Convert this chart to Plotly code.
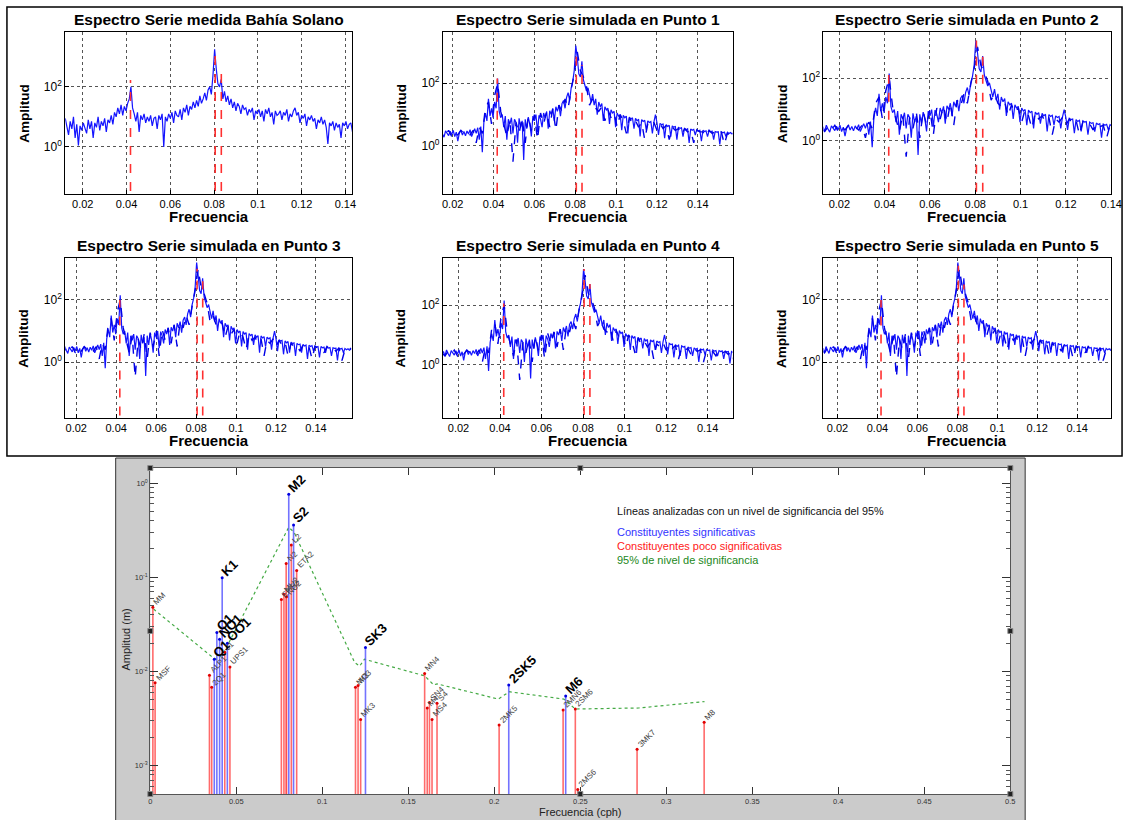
import math
import plotly.graph_objects as go

W, H = 1137, 820

# ---------------- data: spectra (log10 amplitude) ----------------
# fine grid for the solid spectra, coarse grid for the dashed spectra
spec_freq_fino = [round(0.012 + 0.00075 * i, 5) for i in range(195)]
spec_freq = [round(0.012 + 0.0015 * i, 4) for i in range(98)]

medida_log = [
    0.95, 0.70, 0.40, 0.85, 0.60, 1.00, 0.30, 0.75, 0.05, 0.70,
    0.55, 0.80, 0.65, 0.45, 0.90, 0.60, 0.85, 0.30, 0.80, 0.65,
    1.00, 0.55, 0.85, 0.70, 0.95, 0.50, 0.90, 0.80, 1.05, 0.75,
    1.15, 1.00, 1.30, 1.10, 1.40, 1.05, 1.35, 1.20, 1.45, 1.60,
    2.00, 1.30, 1.10, 0.85, 1.15, 0.50, 1.05, 0.90, 1.10, 0.80,
    1.00, 0.85, 1.05, 0.70, 0.95, 1.00, 0.60, 1.05, 0.90, 1.10,
    0.00, 1.00, 0.85, 1.10, 0.95, 1.15, 0.80, 1.20, 1.05, 1.00,
    1.25, 0.90, 1.30, 1.15, 1.40, 1.05, 1.35, 1.25, 1.50, 1.30,
    1.55, 1.35, 1.70, 1.45, 1.60, 1.80, 1.55, 1.90, 2.00, 1.75,
    2.40, 3.25, 2.60, 2.10, 2.00, 2.25, 1.60, 1.85, 1.50, 1.70,
    1.40, 1.60, 1.30, 1.50, 1.20, 1.45, 1.35, 1.10, 1.40, 1.25,
    1.30, 1.05, 1.25, 1.15, 1.30, 0.90, 1.20, 1.10, 1.25, 1.00,
    1.20, 0.85, 1.25, 1.10, 1.30, 1.00, 1.15, 0.75, 1.20, 1.05,
    1.10, 1.20, 0.90, 1.15, 1.05, 1.25, 0.85, 1.10, 1.00, 1.20,
    1.30, 1.05, 1.15, 0.80, 1.05, 0.95, 1.10, 0.70, 1.00, 0.90,
    1.05, 0.85, 0.95, 0.60, 0.90, 0.80, 1.00, 0.75, 0.90, 0.65,
    0.10, 0.80, 0.70, 0.85, 0.55, 0.80, 0.65, 0.75, 0.30, 0.80,
    0.70, 0.85, 0.60, 0.75, 0.80, 0.50, 0.75, 0.65, 0.80, 0.70,
    0.60, 0.75, 0.70, 0.50, 0.75, 0.65, 0.70, 0.60, 0.75, 0.65,
    0.70, 0.60, 0.75, 0.65, 0.70,
]

simulada_log = [
    0.35, 0.45, 0.30, 0.50, 0.38, 0.28, 0.48, 0.40, 0.33, 0.47,
    0.36, 0.50, 0.30, 0.44, 0.15, 0.42, 0.50, 0.35, 0.46, 0.32,
    0.48, 0.38, 0.52, 0.30, 0.45, 0.55, 0.40, 0.58, 0.20, 0.62,
    -0.20, 0.75, 1.05, 0.80, 1.50, 0.95, 1.20, 0.90, 1.40, 1.20,
    2.15, 1.10, 0.90, 1.00, 0.60, 0.95, 0.20, 0.85, 0.70, 0.90,
    0.40, 0.85, 0.75, 0.10, 0.88, 0.60, 0.80, -0.45, 0.85, 0.55,
    0.92, 0.70, 0.30, 0.95, 0.80, 1.00, 0.45, 0.98, 0.85, 0.60,
    1.05, 0.90, 1.10, 0.55, 1.12, 1.00, 1.20, 0.80, 1.25, 1.10,
    1.30, 0.95, 1.35, 1.45, 1.20, 1.55, 1.70, 1.45, 1.85, 2.05,
    2.40, 3.20, 2.80, 2.30, 2.20, 2.70, 2.10, 1.90, 1.75, 1.85,
    1.60, 1.40, 1.65, 1.30, 1.50, 1.00, 1.40, 1.25, 1.35, 0.80,
    1.25, 1.15, 1.20, 0.70, 1.15, 1.05, 1.10, 0.60, 1.05, 0.95,
    1.00, 0.50, 0.98, 0.90, 0.95, 0.40, 0.92, 0.85, 0.90, 0.55,
    0.88, 0.80, 0.85, 0.30, 0.84, 0.78, 0.82, 0.50, 0.80, 0.75,
    0.78, 0.40, 0.76, 1.00, 0.74, 0.35, 0.72, 0.68, 0.70, 0.25,
    0.68, 0.62, 0.66, 0.30, 0.64, 0.60, 0.62, 0.20, 0.60, 0.56,
    0.58, 0.30, 0.57, 0.52, 0.55, 0.10, 0.54, 0.50, 0.53, 0.35,
    0.52, 0.48, 0.50, 0.15, 0.50, 0.46, 0.48, 0.30, 0.48, 0.45,
    0.47, 0.20, 0.46, 0.44, 0.45, 0.05, 0.45, 0.42, 0.44, 0.30,
    0.44, 0.40, 0.43, 0.38, 0.42,
]

simulada_b_log = [
    0.40, 0.30, 0.45, 0.35, 0.50, 0.30, 0.45, 0.35, 0.50, 0.40,
    0.45, 0.35, 0.50, 0.10, 0.60, 0.40, 1.20, 1.40, 0.70, 1.60,
    2.00,
    1.10, 0.70, 0.30, 0.85, -0.50, 0.75, 0.40, 0.90, 0.10,
    0.95, 0.50, 1.00, 0.20, 1.05, 0.70, 1.10, 0.60, 1.20, 0.50,
    1.30, 1.10, 1.50, 1.20, 1.80, 2.30,
    3.00, 2.40, 2.20,
    1.90, 1.30, 1.50, 1.20, 1.10, 1.25, 0.80, 1.15, 0.90, 1.05, 0.60,
    1.00, 0.80, 0.40, 0.90, 0.70, 0.80, 0.60, 0.75, 0.20, 0.70,
    0.60, 0.75, 0.50, 0.70, 0.55, 0.65, 0.20, 0.60, 0.50, 0.55,
    0.35, 0.55, 0.45, 0.50, 0.10, 0.50, 0.45, 0.45, 0.30, 0.50,
    0.40, 0.45, 0.35, 0.45, 0.05, 0.40, 0.35, 0.45,
]

# red dashed lines (K1, M2, S2): frequency and log10 height per panel
picos_freq = [0.0418, 0.0805, 0.0833]
picos_medida = [2.23, 3.27, 2.63]
picos_p1 = [2.15, 3.10, 2.58]
picos_p2 = [2.10, 3.20, 2.73]
picos_p3 = [2.00, 3.00, 2.60]
picos_p4 = [2.05, 3.20, 2.70]
picos_p5 = [2.00, 3.10, 2.50]

spec_titles = [
    "Espectro Serie medida Bahía Solano",
    "Espectro Serie simulada en Punto 1",
    "Espectro Serie simulada en Punto 2",
    "Espectro Serie simulada en Punto 3",
    "Espectro Serie simulada en Punto 4",
    "Espectro Serie simulada en Punto 5",
]
spec_xticks = [0.02, 0.04, 0.06, 0.08, 0.1, 0.12, 0.14]
spec_xticklabels = ["0.02", "0.04", "0.06", "0.08", "0.1", "0.12", "0.14"]

# ---------------- data: t_tide constituents ----------------
const_names = ["MM", "MSF", "ALP1", "2Q1", "Q1", "O1", "NO1", "K1", "J1", "OO1", "UPS1",
               "EPS2", "MU2", "N2", "NU2", "M2", "L2", "S2", "ETA2",
               "MO3", "M3", "MK3", "SK3",
               "MN4", "M4", "SN4", "MS4", "S4",
               "2MK5", "2SK5", "2MN6", "M6", "2SM6", "2MS6", "3MK7", "M8"]
const_freq = [0.0015, 0.0028, 0.0344, 0.0357, 0.0372, 0.0387, 0.0403, 0.0418, 0.0433, 0.0448, 0.0463,
              0.0762, 0.0777, 0.0790, 0.0792, 0.0805, 0.0820, 0.0833, 0.0851,
              0.1193, 0.1208, 0.1223, 0.1251,
              0.1595, 0.1610, 0.1623, 0.1638, 0.1667,
              0.2028, 0.2084, 0.2400, 0.2415, 0.2471, 0.2485, 0.2830, 0.3220]
const_amp = [0.048, 0.0076, 0.0091, 0.0068, 0.0135, 0.026, 0.022, 0.099, 0.016, 0.020, 0.0112,
             0.058, 0.066, 0.14, 0.062, 0.76, 0.22, 0.36, 0.118,
             0.0068, 0.0071, 0.0031, 0.018,
             0.0095, 0.0041, 0.0047, 0.0031, 0.0046,
             0.0027, 0.0072, 0.0039, 0.0055, 0.0040, 0.00056, 0.0015, 0.0029]
const_signif = ["Q1", "O1", "NO1", "K1", "OO1", "M2", "S2", "SK3", "2SK5", "M6"]

signif_freq = [0.0019, 0.0355, 0.0385, 0.0420, 0.0805, 0.0836, 0.1188, 0.1217, 0.1245,
               0.1595, 0.1648, 0.1667, 0.2023, 0.2087, 0.2404, 0.2471, 0.2839, 0.3222]
signif_amp = [0.046, 0.0145, 0.0135, 0.0150, 0.34, 0.30, 0.0125, 0.0114, 0.0135,
              0.0090, 0.0072, 0.0074, 0.0051, 0.0061, 0.0051, 0.0040, 0.0041, 0.0048]

bottom_xticks = [0, 0.05, 0.1, 0.15, 0.2, 0.25, 0.3, 0.35, 0.4, 0.45, 0.5]
bottom_xticklabels = ["0", "0.05", "0.1", "0.15", "0.2", "0.25", "0.3", "0.35", "0.4", "0.45", "0.5"]

# ---------------- layout geometry (pixels) ----------------
panel_geom = [
    (64, 354, 32, 194, (0.012, 0.143), (-1.57, 3.83)),
    (446, 739, 32, 194, (0.0152, 0.157), (-1.53, 3.63)),
    (831, 1122, 32, 194, (0.013, 0.140), (-1.69, 3.47)),
    (64, 354, 258, 418, (0.0145, 0.158), (-1.80, 3.35)),
    (446, 739, 258, 418, (0.0125, 0.152), (-1.77, 3.57)),
    (831, 1122, 258, 418, (0.013, 0.157), (-1.80, 3.35)),
]
panel_solid = [medida_log, simulada_log, simulada_log, simulada_log, simulada_log, simulada_log]
panel_dashed = [None, simulada_b_log, simulada_b_log, simulada_b_log, simulada_b_log, simulada_b_log]
panel_picos = [picos_medida, picos_p1, picos_p2, picos_p3, picos_p4, picos_p5]


def fx(px):
    return px / W


def fy(py):
    return 1 - py / H


FONT = "Arial, Liberation Sans, sans-serif"
fig = go.Figure()
layout = dict(width=W, height=H, margin=dict(l=0, r=0, t=0, b=0), autosize=False,
              paper_bgcolor="white", plot_bgcolor="white", showlegend=False)
annotations = []
shapes = []

for k, (x0, x1, y0, y1, xr, yr) in enumerate(panel_geom):
    sfx = "" if k == 0 else str(k + 1)
    xa, ya = "x" + sfx, "y" + sfx
    fig.add_trace(go.Scatter(x=spec_freq_fino, y=[10 ** v for v in panel_solid[k]], mode="lines",
                             line=dict(color="#1414ff", width=1.2), xaxis=xa, yaxis=ya, hoverinfo="skip"))
    if panel_dashed[k] is not None:
        fig.add_trace(go.Scatter(x=spec_freq, y=[10 ** v for v in panel_dashed[k]], mode="lines",
                                 line=dict(color="#0000e6", width=1.4, dash="dash"),
                                 xaxis=xa, yaxis=ya, hoverinfo="skip"))
    rx, ry = [], []
    for f, h in zip(picos_freq, panel_picos[k]):
        rx += [f, f, None]
        ry += [10 ** (yr[0] - 0.5), 10 ** h, None]
    fig.add_trace(go.Scatter(x=rx, y=ry, mode="lines", line=dict(color="#ff3030", width=1.6, dash="dash"),
                             xaxis=xa, yaxis=ya, hoverinfo="skip"))
    common = dict(showline=True, linecolor="black", linewidth=1, mirror=True, ticks="inside",
                  ticklen=4, tickcolor="black", showgrid=True, gridcolor="#555555", griddash="dot",
                  gridwidth=1, zeroline=False)
    layout["xaxis" + sfx] = dict(domain=[fx(x0), fx(x1)], range=list(xr), anchor=ya,
                                 tickmode="array", tickvals=spec_xticks, ticktext=spec_xticklabels,
                                 tickfont=dict(family=FONT, size=11, color="black"), **common)
    layout["yaxis" + sfx] = dict(domain=[fy(y1), fy(y0)], range=list(yr), anchor=xa, type="log",
                                 tickmode="array", tickvals=[1, 100],
                                 ticktext=["10<sup>0</sup>", "10<sup>2</sup>"],
                                 tickfont=dict(family=FONT, size=12, color="black"), **common)
    cx = fx((x0 + x1) / 2)
    annotations.append(dict(xref="paper", yref="paper", x=cx, y=fy(y0 - 13), text="<b>%s</b>" % spec_titles[k],
                            showarrow=False, xanchor="center", yanchor="middle",
                            font=dict(family=FONT, size=15.5, color="black")))
    annotations.append(dict(xref="paper", yref="paper", x=cx, y=fy(y1 + 22), text="<b>Frecuencia</b>",
                            showarrow=False, xanchor="center", yanchor="middle",
                            font=dict(family=FONT, size=15, color="black")))
    annotations.append(dict(xref="paper", yref="paper", x=fx(x0 - 42), y=fy((y0 + y1) / 2),
                            text="<b>Amplitud</b>", textangle=-90, showarrow=False,
                            xanchor="center", yanchor="middle",
                            font=dict(family=FONT, size=13.5, color="black")))

# ---------------- bottom t_tide panel ----------------
BX0, BX1, BY0, BY1 = 150, 1020, 468, 794
BYR = (-3.3, 0.16)
shapes.append(dict(type="rect", xref="paper", yref="paper", x0=fx(115), x1=fx(1035), y0=fy(822), y1=fy(458),
                   fillcolor="#cbcbcb", line=dict(color="#333333", width=1), layer="below"))
shapes.append(dict(type="rect", xref="paper", yref="paper", x0=fx(BX0), x1=fx(BX1), y0=fy(BY1), y1=fy(BY0),
                   fillcolor="white", line=dict(width=0), layer="below"))
shapes.append(dict(type="rect", xref="paper", yref="paper", x0=fx(5), x1=fx(1133), y0=fy(456), y1=fy(7),
                   fillcolor="rgba(0,0,0,0)", line=dict(color="black", width=1.5), layer="above"))

# significance line
fig.add_trace(go.Scatter(x=signif_freq, y=signif_amp, mode="lines",
                         line=dict(color="#44aa44", width=1.2, dash="dot"),
                         xaxis="x7", yaxis="y7", hoverinfo="skip"))
for sig, col, mcol in [(False, "rgba(255,70,70,0.8)", "#e00000"), (True, "rgba(90,90,255,0.85)", "#0000e0")]:
    sx, sy, mx, my = [], [], [], []
    for n, f, a in zip(const_names, const_freq, const_amp):
        if (n in const_signif) != sig:
            continue
        sx += [f, f, None]
        sy += [1e-4, a, None]
        mx.append(f)
        my.append(a)
    fig.add_trace(go.Scatter(x=sx, y=sy, mode="lines", line=dict(color=col, width=1.6),
                             xaxis="x7", yaxis="y7", hoverinfo="skip"))
    fig.add_trace(go.Scatter(x=mx, y=my, mode="markers", marker=dict(color=mcol, size=3),
                             xaxis="x7", yaxis="y7", hoverinfo="skip"))

for n, f, a in zip(const_names, const_freq, const_amp):
    big = n in const_signif
    size = 13 if big else 8
    annotations.append(dict(xref="x7", yref="y7", x=f, y=math.log10(a),
                            text=("<b>%s</b>" % n) if big else n, textangle=-45, showarrow=False,
                            xanchor="left", yanchor="bottom", xshift=-0.5 * size, yshift=-0.3 * size,
                            font=dict(family=FONT, size=size, color="black" if big else "#444444")))

minor_vals = [m * 10 ** e for e in (-4, -3, -2, -1, 0) for m in range(2, 10)]
layout["xaxis7"] = dict(domain=[fx(BX0), fx(BX1)], range=[0, 0.5], anchor="y7", tickmode="array",
                        tickvals=bottom_xticks, ticktext=bottom_xticklabels, ticks="inside", ticklen=7,
                        tickcolor="#333333", showline=True, linecolor="#555555", mirror="allticks",
                        showgrid=False, zeroline=False,
                        tickfont=dict(family=FONT, size=7.5, color="#333333"))
layout["yaxis7"] = dict(domain=[fy(BY1), fy(BY0)], range=list(BYR), anchor="x7", type="log",
                        tickmode="array", tickvals=[0.001, 0.01, 0.1, 1],
                        ticktext=["10<sup>-3</sup>", "10<sup>-2</sup>", "10<sup>-1</sup>", "10<sup>0</sup>"],
                        ticks="inside", ticklen=8, tickcolor="#333333", showline=True, linecolor="#555555",
                        mirror="allticks", showgrid=False, zeroline=False,
                        minor=dict(tickmode="array", tickvals=minor_vals, ticks="inside", ticklen=4,
                                   tickcolor="#555555", showgrid=False),
                        tickfont=dict(family=FONT, size=7.5, color="#333333"))

annotations.append(dict(xref="paper", yref="paper", x=fx(585), y=fy(812), text="Frecuencia (cph)",
                        showarrow=False, xanchor="center", yanchor="middle",
                        font=dict(family=FONT, size=11, color="#222222")))
annotations.append(dict(xref="paper", yref="paper", x=fx(125), y=fy(640), text="Amplitud (m)",
                        textangle=-90, showarrow=False, xanchor="center", yanchor="middle",
                        font=dict(family=FONT, size=11, color="#222222")))

legend_lines = [("Líneas analizadas con un nivel de significancia del 95%", "#111111", 511, 10.8),
                ("Constituyentes significativas", "#3333ff", 532, 11),
                ("Constituyentes poco significativas", "#ff2020", 546, 11),
                ("95% de nivel de significancia", "#228822", 560, 11)]
for txt, col, py, fs in legend_lines:
    annotations.append(dict(xref="paper", yref="paper", x=fx(620), y=fy(py), text=txt, showarrow=False,
                            xanchor="left", yanchor="middle", font=dict(family=FONT, size=fs, color=col)))

# selection handles of the original figure
for hx, hy in [(150, 468), (585, 468), (1020, 468), (150, 631), (1020, 631), (150, 794), (585, 794), (1020, 794)]:
    shapes.append(dict(type="rect", xref="paper", yref="paper", x0=fx(hx - 2.5), x1=fx(hx + 2.5),
                       y0=fy(hy + 2.5), y1=fy(hy - 2.5), fillcolor="#222222",
                       line=dict(color="#888888", width=1), layer="above"))

layout["annotations"] = annotations
layout["shapes"] = shapes
fig.update_layout(**layout)
fig.write_html("out.html", config={"displayModeBar": False},
               post_script="document.documentElement.style.overflow='hidden';"
                           "document.body.style.margin='0';document.body.style.padding='0';"
                           "document.body.style.overflow='hidden';")
